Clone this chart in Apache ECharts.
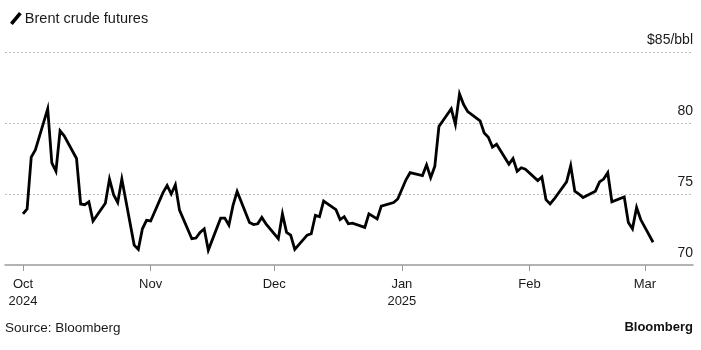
<!DOCTYPE html>
<html>
<head>
<meta charset="utf-8">
<script src="https://cdn.jsdelivr.net/npm/echarts@6/dist/echarts.min.js"></script>
<style>
  html, body { margin: 0; padding: 0; background: #fff; }
  #chart { width: 701px; height: 350px; }
</style>
</head>
<body>
<div id="chart"></div>
<script>
// Brent crude front-month settlements, USD per barrel
const tradeDates = [
  '2024-10-01','2024-10-02','2024-10-03','2024-10-04','2024-10-07','2024-10-08','2024-10-09','2024-10-10','2024-10-11',
  '2024-10-14','2024-10-15','2024-10-16','2024-10-17','2024-10-18','2024-10-21','2024-10-22','2024-10-23','2024-10-24',
  '2024-10-25','2024-10-28','2024-10-29','2024-10-30','2024-10-31',
  '2024-11-01','2024-11-04','2024-11-05','2024-11-06','2024-11-07','2024-11-08','2024-11-11','2024-11-12','2024-11-13',
  '2024-11-14','2024-11-15','2024-11-18','2024-11-19','2024-11-20','2024-11-21','2024-11-22','2024-11-25','2024-11-26',
  '2024-11-27','2024-11-28','2024-11-29',
  '2024-12-02','2024-12-03','2024-12-04','2024-12-05','2024-12-06','2024-12-09','2024-12-10','2024-12-11','2024-12-12',
  '2024-12-13','2024-12-16','2024-12-17','2024-12-18','2024-12-19','2024-12-20','2024-12-23','2024-12-24','2024-12-26',
  '2024-12-27','2024-12-30','2024-12-31',
  '2025-01-02','2025-01-03','2025-01-06','2025-01-07','2025-01-08','2025-01-09','2025-01-10','2025-01-13','2025-01-14',
  '2025-01-15','2025-01-16','2025-01-17','2025-01-20','2025-01-21','2025-01-22','2025-01-23','2025-01-24','2025-01-27',
  '2025-01-28','2025-01-29','2025-01-30','2025-01-31',
  '2025-02-03','2025-02-04','2025-02-05','2025-02-06','2025-02-07','2025-02-10','2025-02-11','2025-02-12','2025-02-13',
  '2025-02-14','2025-02-17','2025-02-18','2025-02-19','2025-02-20','2025-02-21','2025-02-24','2025-02-25','2025-02-26',
  '2025-02-27','2025-02-28',
  '2025-03-03'
];

const brentPrices = [
  73.6, 73.95, 77.6, 78.1, 81.0, 77.2, 76.6, 79.45, 79.1,
  77.5, 74.3, 74.25, 74.45, 73.1, 74.35, 76.05, 74.95, 74.4,
  76.05, 71.4, 71.1, 72.55, 73.15,
  73.1, 75.1, 75.6, 75.0, 75.65, 73.87, 71.85, 71.9, 72.3,
  72.55, 71.05, 73.3, 73.3, 72.8, 74.2, 75.17, 73.0, 72.85,
  72.9, 73.35, 72.9,
  71.85, 73.6, 72.3, 72.1, 71.1, 72.1, 72.2, 73.5, 73.4,
  74.5, 73.9, 73.2, 73.4, 72.9, 72.95, 72.65, 73.6, 73.25,
  74.15, 74.4, 74.65,
  76.0, 76.5, 76.3, 77.05, 76.15, 76.95, 79.75, 81.0, 79.9,
  82.05, 81.3, 80.8, 80.15, 79.3, 79.0, 78.3, 78.5, 77.1,
  77.5, 76.6, 76.85, 76.75,
  75.95, 76.2, 74.6, 74.3, 74.65, 75.85, 77.0, 75.2, 75.0,
  74.75, 75.2, 75.85, 76.05, 76.5, 74.45, 74.8, 73.0, 72.55,
  74.05, 73.2,
  71.6
];

// Month ticks along the date axis and their labels
const monthTicks = ['2024-10-01', '2024-11-01', '2024-12-01', '2025-01-01', '2025-02-01', '2025-03-01'];
const monthLabels = ['Oct\n2024', 'Nov', 'Dec', 'Jan\n2025', 'Feb', 'Mar'];

// Price axis
const priceTicks = [70, 75, 80, 85];
const priceUnitLabel = '$85/bbl';

const seriesName = 'Brent crude futures';
const sourceText = 'Source: Bloomberg';
const brandText = 'Bloomberg';

const HOUR = 3600 * 1000;
const ts = s => Date.parse(s + 'T00:00:00Z');
const tickStamps = monthTicks.map(ts);
const lineData = tradeDates.map((d, i) => [ts(d), brentPrices[i]]);

const FONT = '"Liberation Sans", Arial, sans-serif';
const INK = '#1a1a1a';

const chart = echarts.init(document.getElementById('chart'), null, { renderer: 'canvas' });

chart.setOption({
  animation: false,
  backgroundColor: '#ffffff',
  textStyle: { fontFamily: FONT },
  legend: {
    data: [seriesName],
    left: 5,
    top: 6,
    itemWidth: 12,
    itemHeight: 13,
    itemGap: 6,
    icon: 'path://M0,10.2 L8.4,0 L11,2 L2.6,12.2 Z',
    textStyle: { fontFamily: FONT, fontSize: 14.5, color: INK, padding: [0, 0, 0, -2] }
  },
  grid: { left: 5, right: 8, top: 52, bottom: 85, containLabel: false },
  xAxis: {
    // timestamps on a numeric axis so ticks can sit exactly on month starts
    type: 'value',
    min: ts('2024-09-26') + 15.1 * HOUR,
    max: ts('2025-03-12') + 16.8 * HOUR,
    axisLine: { show: true, lineStyle: { color: '#9a9a9a', width: 1.5 } },
    axisTick: {
      show: true,
      customValues: tickStamps,
      length: 6,
      lineStyle: { color: '#9a9a9a', width: 1 }
    },
    axisLabel: {
      customValues: tickStamps,
      margin: 11,
      fontFamily: FONT,
      fontSize: 13,
      lineHeight: 17,
      color: INK,
      formatter: v => {
        const i = tickStamps.indexOf(v);
        return i >= 0 ? monthLabels[i] : '';
      }
    },
    splitLine: { show: false }
  },
  yAxis: {
    type: 'value',
    position: 'right',
    min: priceTicks[0],
    max: priceTicks[priceTicks.length - 1],
    interval: 5,
    axisLine: { show: false },
    axisTick: { show: false },
    axisLabel: {
      inside: true,
      margin: 0,
      fontFamily: FONT,
      fontSize: 14,
      color: INK,
      verticalAlign: 'bottom',
      padding: [0, 0, 5, 0],
      formatter: v => (v === priceTicks[priceTicks.length - 1] ? priceUnitLabel : String(v))
    },
    splitLine: {
      show: true,
      showMinLine: false,
      lineStyle: { color: '#bcbcbc', width: 1, type: [2, 2] }
    }
  },
  series: [{
    name: seriesName,
    type: 'line',
    data: lineData,
    showSymbol: false,
    symbol: 'none',
    color: '#000',
    lineStyle: { color: '#000', width: 2.8, join: 'miter' },
    emphasis: { disabled: true }
  }],
  graphic: [
    {
      type: 'text',
      left: 5,
      top: 321,
      style: { text: sourceText, font: '13.5px ' + FONT, fill: INK }
    },
    {
      type: 'text',
      right: 8,
      top: 321,
      style: { text: brandText, font: 'bold 13px ' + FONT, fill: '#111' }
    }
  ]
});
</script>
</body>
</html>
